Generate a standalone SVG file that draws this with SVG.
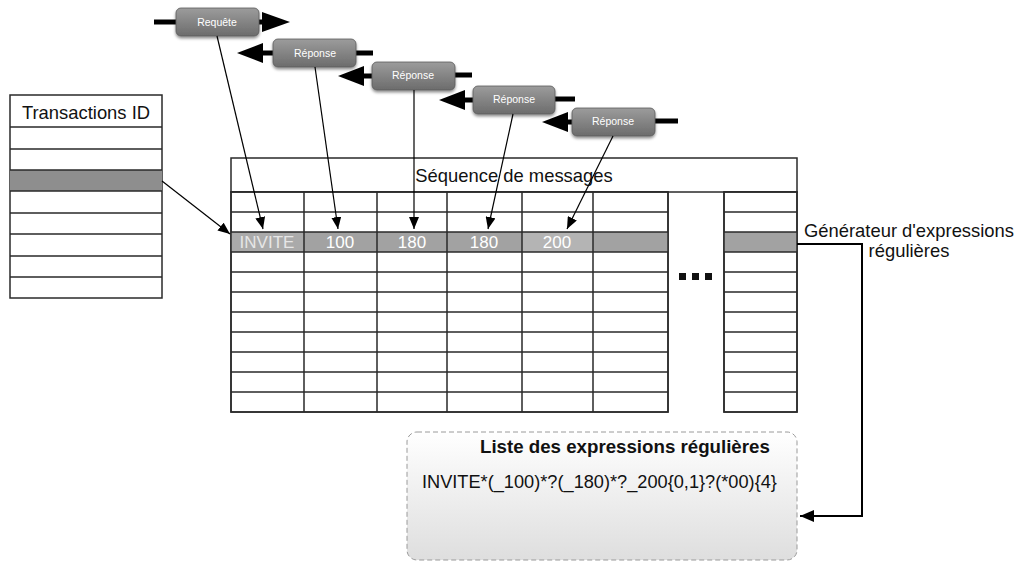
<svg xmlns="http://www.w3.org/2000/svg" width="1018" height="563" viewBox="0 0 1018 563">
<defs>
<linearGradient id="btn" x1="0" y1="0" x2="0" y2="1">
<stop offset="0" stop-color="#9c9c9c"/>
<stop offset="1" stop-color="#6c6c6c"/>
</linearGradient>
<linearGradient id="listg" x1="0" y1="0" x2="0" y2="1">
<stop offset="0" stop-color="#ffffff"/>
<stop offset="1" stop-color="#dedede"/>
</linearGradient>
<filter id="sh" x="-20%" y="-30%" width="140%" height="170%">
<feDropShadow dx="0" dy="2" stdDeviation="1.8" flood-color="#000" flood-opacity="0.45"/>
</filter>
<marker id="ah" viewBox="0 0 12 10" refX="12" refY="5" markerWidth="12" markerHeight="10" markerUnits="userSpaceOnUse" orient="auto">
<path d="M0,0 L12,5 L0,10 z" fill="#000"/>
</marker>
<marker id="ahb" viewBox="0 0 14 12" refX="14" refY="6" markerWidth="14" markerHeight="12" markerUnits="userSpaceOnUse" orient="auto">
<path d="M0,0 L14,6 L0,12 z" fill="#000"/>
</marker>
</defs>
<style>
.grid{stroke:#2a2a2a;stroke-width:1.5;fill:none}
.cellw{fill:#fff;stroke:#2a2a2a;stroke-width:1.5}
.btn{fill:url(#btn);stroke:#5a5a5a;stroke-width:0.8}
.btxt{font-family:"Liberation Sans",Arial,sans-serif;font-size:10.5px;fill:#fff;text-anchor:middle}
.stub{stroke:#000;stroke-width:5;stroke-linecap:butt}
.conn{stroke:#000;stroke-width:1.2;fill:none}
.lbl{font-family:"Liberation Sans",Arial,sans-serif;font-size:18.4px;fill:#111}
.rowtxt{font-family:"Liberation Sans",Arial,sans-serif;font-size:17px;fill:#fff;text-anchor:middle}
</style>
<rect width="1018" height="563" fill="#fff"/>

<g id="transactions">
<rect x="10" y="95" width="152" height="203" class="cellw"/>
<rect x="10" y="170" width="152" height="21" fill="#8e8e8e"/>
<path class="grid" d="M10,127H162M10,149H162M10,170H162M10,191H162M10,213H162M10,234H162M10,256H162M10,277H162"/>
<text x="86" y="119" class="lbl" text-anchor="middle">Transactions ID</text>
</g>

<g id="sequence">
<rect x="231" y="158" width="566" height="34" class="cellw"/>
<text x="514" y="182" class="lbl" text-anchor="middle">Séquence de messages</text>
<rect x="231" y="192" width="437" height="220" class="cellw"/>
<rect x="724" y="192" width="73" height="220" class="cellw"/>
<rect x="231" y="232" width="437" height="20" fill="#a2a2a2"/>
<rect x="231" y="232" width="73" height="20" fill="#aaaaaa"/>
<rect x="522" y="232" width="71" height="20" fill="#b4b4b4"/>
<rect x="724" y="232" width="73" height="20" fill="#a2a2a2"/>
<path class="grid" d="M231,212H668M231,232H668M231,252H668M231,272H668M231,292H668M231,312H668M231,332H668M231,352H668M231,372H668M231,392H668"/>
<path class="grid" d="M724,212H797M724,232H797M724,252H797M724,272H797M724,292H797M724,312H797M724,332H797M724,352H797M724,372H797M724,392H797"/>
<path class="grid" d="M304,192V412M377,192V412M447,192V412M522,192V412M593,192V412"/>
<rect x="231" y="192" width="437" height="220" class="grid"/>
<rect x="724" y="192" width="73" height="220" class="grid"/>
<text x="267" y="248" class="rowtxt" style="fill:#e6e6e6">INVITE</text>
<text x="340" y="248" class="rowtxt">100</text>
<text x="412" y="248" class="rowtxt">180</text>
<text x="484" y="248" class="rowtxt">180</text>
<text x="557" y="248" class="rowtxt">200</text>
<rect x="679" y="273" width="7" height="7" fill="#111"/>
<rect x="692" y="273" width="7" height="7" fill="#111"/>
<rect x="705" y="273" width="7" height="7" fill="#111"/>
</g>

<g id="generateur">
<text x="909" y="237" class="lbl" text-anchor="middle">Générateur d'expressions</text>
<text x="909" y="257" class="lbl" text-anchor="middle">régulières</text>
</g>

<g id="liste">
<rect x="407" y="432" width="390" height="128" rx="10" fill="url(#listg)" stroke="#9a9a9a" stroke-width="1" stroke-dasharray="5,3"/>
<text x="480" y="453" font-family="Liberation Sans, Arial, sans-serif" font-size="18.7px" font-weight="bold" fill="#111">Liste des expressions régulières</text>
<text x="422" y="488" font-family="Liberation Sans, Arial, sans-serif" font-size="18.2px" fill="#111">INVITE*(_100)*?(_180)*?_200{0,1}?(*00){4}</text>
</g>

<g id="requete">
<line x1="154" y1="22" x2="176" y2="22" class="stub"/>
<line x1="259" y1="22" x2="266" y2="22" class="stub"/>
<path d="M262,12 L290,22 L262,32 z" fill="#000"/>
<rect x="176" y="8" width="83" height="28" rx="5" class="btn" filter="url(#sh)"/>
<text x="217" y="26" class="btxt">Requête</text>
</g>

<g id="reponse1">
<line x1="260" y1="53" x2="273" y2="53" class="stub"/>
<path d="M263,43 L237,53 L263,63 z" fill="#000"/>
<line x1="356" y1="53" x2="373" y2="53" class="stub"/>
<rect x="273" y="39" width="83" height="28" rx="5" class="btn" filter="url(#sh)"/>
<text x="315" y="57" class="btxt">Réponse</text>
</g>

<g id="reponse2">
<line x1="360" y1="76" x2="372" y2="76" class="stub"/>
<path d="M364,66 L338,76 L364,86 z" fill="#000"/>
<line x1="455" y1="75" x2="472" y2="75" class="stub"/>
<rect x="372" y="62" width="83" height="28" rx="5" class="btn" filter="url(#sh)"/>
<text x="413" y="79" class="btxt">Réponse</text>
</g>

<g id="reponse3">
<line x1="461" y1="100" x2="473" y2="100" class="stub"/>
<path d="M465,90 L439,100 L465,110 z" fill="#000"/>
<line x1="555" y1="99" x2="575" y2="99" class="stub"/>
<rect x="473" y="86" width="82" height="28" rx="5" class="btn" filter="url(#sh)"/>
<text x="514" y="103" class="btxt">Réponse</text>
</g>

<g id="reponse4">
<line x1="560" y1="122" x2="572" y2="122" class="stub"/>
<path d="M568,112 L542,122 L568,132 z" fill="#000"/>
<line x1="655" y1="121" x2="678" y2="121" class="stub"/>
<rect x="572" y="108" width="83" height="28" rx="5" class="btn" filter="url(#sh)"/>
<text x="613" y="125" class="btxt">Réponse</text>
</g>

<g id="connectors">
<line x1="217" y1="36" x2="263" y2="229" class="conn" marker-end="url(#ah)"/>
<line x1="315" y1="67" x2="338" y2="229" class="conn" marker-end="url(#ah)"/>
<line x1="414" y1="90" x2="414" y2="229" class="conn" marker-end="url(#ah)"/>
<line x1="513" y1="114" x2="488" y2="229" class="conn" marker-end="url(#ah)"/>
<line x1="613" y1="136" x2="567" y2="229" class="conn" marker-end="url(#ah)"/>
<line x1="162" y1="181" x2="230" y2="234" class="conn" marker-end="url(#ah)"/>
<path d="M797,244 H862 V516 H800" fill="none" stroke="#000" stroke-width="2" marker-end="url(#ahb)"/>
</g>
</svg>
